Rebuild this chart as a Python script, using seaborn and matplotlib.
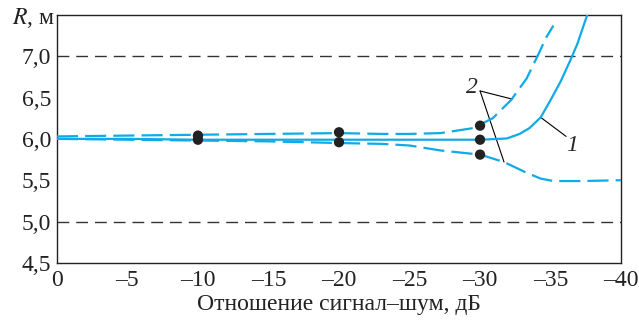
import matplotlib
matplotlib.use("Agg")
import matplotlib.pyplot as plt
import seaborn as sns
import pandas as pd

# Data
x_solid = [0, -5, -10, -15, -20, -25, -28, -30, -31.9, -32.8, -33.5, -34.3, -35.0, -35.7, -36.4, -36.9, -37.6]
y_solid = [6.0, 6.0, 5.99, 5.99, 5.99, 5.99, 5.99, 5.99, 6.005, 6.06, 6.13, 6.26, 6.47, 6.69, 6.95, 7.15, 7.5]

x_upper = [0, -5, -10, -15, -20, -23, -25, -27.2, -29.5, -30.9, -32.2, -33.3, -34.1, -34.7, -35.2]
y_upper = [6.03, 6.04, 6.05, 6.06, 6.07, 6.06, 6.06, 6.07, 6.13, 6.25, 6.47, 6.73, 7.01, 7.23, 7.37]

x_lower = [0, -5, -10, -15, -20, -23, -25, -27.2, -30, -31.7, -33.3, -34.3, -35.2, -37.1, -40]
y_lower = [6.0, 5.99, 5.98, 5.97, 5.95, 5.94, 5.92, 5.86, 5.81, 5.72, 5.59, 5.52, 5.49, 5.49, 5.50]

x_dots = [-10, -10, -20, -20, -30, -30, -30]
y_dots = [6.04, 5.99, 6.08, 5.96, 6.16, 5.99, 5.81]

x_ticks = [0, -5, -10, -15, -20, -25, -30, -35, -40]
y_ticks = [4.5, 5.0, 5.5, 6.0, 6.5, 7.0]
ref_levels = [7.0, 5.0]

sns.set_style("white")
plt.rcParams['font.family'] = ['Liberation Serif', 'DejaVu Serif']
plt.rcParams['mathtext.fontset'] = 'stix'

fig = plt.figure(figsize=(6.39, 3.23), dpi=100)
ax = fig.add_axes([0.089, 0.186, 0.883, 0.768])

blue = "#10aae6"
df_s = pd.DataFrame({"x": x_solid, "y": y_solid})
df_u = pd.DataFrame({"x": x_upper, "y": y_upper})
df_l = pd.DataFrame({"x": x_lower, "y": y_lower})

for lv in ref_levels:
    ax.axhline(lv, color="#333333", lw=1.0, dashes=(8.5, 5), zorder=1)

sns.lineplot(data=df_s, x="x", y="y", ax=ax, color=blue, lw=1.6, sort=False, zorder=3)
sns.lineplot(data=df_u, x="x", y="y", ax=ax, color=blue, lw=1.6, sort=False, zorder=3)
ax.lines[-1].set_dashes((9.5, 3.2))
sns.lineplot(data=df_l, x="x", y="y", ax=ax, color=blue, lw=1.6, sort=False, zorder=3)
ax.lines[-1].set_dashes((9.5, 3.2))

sns.scatterplot(x=x_dots, y=y_dots, ax=ax, color="#222222", s=55, edgecolor="none", zorder=4)

# annotations
ax.text(-29.4, 6.62, "2", fontsize=17, style="italic", ha="center", va="center")
ax.plot([-30.0, -32.3], [6.58, 6.48], color="black", lw=0.8)
ax.plot([-30.0, -31.7], [6.58, 5.72], color="black", lw=0.8)
ax.text(-36.5, 5.92, "1", fontsize=17, style="italic", ha="center", va="center")
ax.plot([-34.3, -36.1], [6.26, 6.03], color="black", lw=0.8)

ax.set_xlim(0, -40)
ax.set_ylim(4.5, 7.5)
ax.set_xticks(x_ticks)
ax.set_xticklabels(["0" if v == 0 else "\u2013" + str(abs(v)) for v in x_ticks])
ax.set_yticks(y_ticks)
ax.set_yticklabels([f"{v:.1f}".replace(".", ",") for v in y_ticks])
ax.tick_params(direction="in", length=5, width=0.8, labelsize=17, colors="#222222", pad=4)
ax.tick_params(axis="x", pad=5)
for sp in ax.spines.values():
    sp.set_visible(True)
    sp.set_color("#222222")
    sp.set_linewidth(1.0)

ax.set_xlabel("Отношение сигнал\u2013шум, дБ", fontsize=17, color="#222222", labelpad=2)
ax.set_ylabel("")
fig.text(0.018, 0.925, "$R$, м", fontsize=17, color="#222222", ha="left", va="baseline")

fig.savefig("out.png", dpi=100)
